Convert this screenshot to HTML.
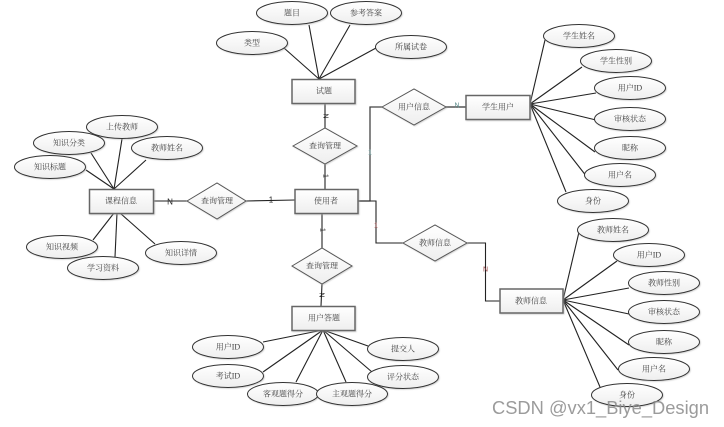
<!DOCTYPE html>
<html>
<head>
<meta charset="utf-8">
<style>
html,body{margin:0;padding:0;background:#fff;width:724px;height:427px;overflow:hidden}
svg{display:block}
.l line,.l polyline{stroke:#222;stroke-width:1.1;fill:none}
.e ellipse{fill:url(#g);stroke:#333;stroke-width:1}
.r rect{fill:url(#g);stroke:#666;stroke-width:1.5}
.d polygon{fill:url(#g);stroke:#555;stroke-width:1}
.s{filter:url(#sh)}
text{font-family:"Liberation Serif","Noto Serif CJK SC",serif;font-size:8px;fill:#444;text-anchor:middle;dominant-baseline:central}
.lab{font-family:"Liberation Sans",sans-serif;font-size:7px;fill:#222}
.wm{font-family:"Liberation Sans",sans-serif;font-size:18px;fill:#8a8a8a;fill-opacity:.85;text-anchor:start;dominant-baseline:auto}
</style>
</head>
<body>
<svg width="724" height="427" viewBox="0 0 724 427" xmlns="http://www.w3.org/2000/svg">
<defs>
<linearGradient id="g" x1="0" y1="0" x2="0" y2="1"><stop offset="0" stop-color="#fff"/><stop offset="1" stop-color="#eeeeee"/></linearGradient>
<filter id="sh" x="-10%" y="-10%" width="120%" height="125%"><feDropShadow dx="0.8" dy="0.8" stdDeviation="0.4" flood-color="#aaa" flood-opacity=".55"/></filter>
</defs>

<g class="l">
<line x1="319" y1="79" x2="284" y2="48"/>
<line x1="319" y1="79" x2="309" y2="25"/>
<line x1="319" y1="79" x2="350" y2="25"/>
<line x1="319" y1="79" x2="376" y2="48"/>
<line x1="325" y1="103" x2="325" y2="128"/>
<line x1="325" y1="164" x2="325" y2="189"/>
<line x1="114" y1="189" x2="86" y2="170"/>
<line x1="114" y1="189" x2="91" y2="153"/>
<line x1="114" y1="189" x2="122" y2="139"/>
<line x1="114" y1="189" x2="146" y2="160"/>
<line x1="114" y1="213" x2="93" y2="240"/>
<line x1="117" y1="213" x2="115" y2="257"/>
<line x1="120" y1="213" x2="155" y2="244"/>
<line x1="153" y1="201" x2="187" y2="201"/>
<line x1="246" y1="201" x2="295" y2="200"/>
<line x1="322" y1="213" x2="322" y2="248"/>
<line x1="322" y1="284" x2="321" y2="306"/>
<line x1="323" y1="330" x2="263" y2="342"/>
<line x1="323" y1="330" x2="263" y2="372"/>
<line x1="323" y1="330" x2="296" y2="382"/>
<line x1="323" y1="330" x2="346" y2="382"/>
<line x1="323" y1="330" x2="368" y2="346"/>
<line x1="323" y1="330" x2="372" y2="372"/>
<polyline points="358,201 370,201 370,107 382,107" style="stroke:#444;stroke-width:1.3"/>
<line x1="446" y1="107" x2="466" y2="107" style="stroke:#555;stroke-width:1.6"/>
<polyline points="358,201 376,201 376,243 403,243"/>
<polyline points="467,243 485.5,243 485.5,301 500,301"/>
<line x1="530" y1="104" x2="545" y2="40"/>
<line x1="530" y1="104" x2="582" y2="67"/>
<line x1="530" y1="104" x2="596" y2="93"/>
<line x1="530" y1="104" x2="596" y2="120"/>
<line x1="530" y1="104" x2="595" y2="152"/>
<line x1="530" y1="104" x2="587" y2="177"/>
<line x1="530" y1="104" x2="566" y2="192"/>
<line x1="563" y1="300" x2="579" y2="232"/>
<line x1="563" y1="300" x2="617" y2="261"/>
<line x1="563" y1="300" x2="629" y2="288"/>
<line x1="563" y1="300" x2="629" y2="314"/>
<line x1="563" y1="300" x2="629" y2="345"/>
<line x1="563" y1="300" x2="618" y2="370"/>
<line x1="563" y1="300" x2="600" y2="387"/>
</g>

<g class="e s">
<ellipse cx="292" cy="13" rx="35.5" ry="11.5"/>
<ellipse cx="366" cy="13" rx="35.5" ry="11.5"/>
<ellipse cx="252" cy="43" rx="35.5" ry="11.5"/>
<ellipse cx="411" cy="47" rx="35.5" ry="11.5"/>
<ellipse cx="122" cy="127" rx="35.5" ry="11.5"/>
<ellipse cx="69" cy="143" rx="35.5" ry="11.5"/>
<ellipse cx="167" cy="148" rx="35.5" ry="11.5"/>
<ellipse cx="50" cy="167" rx="35.5" ry="11.5"/>
<ellipse cx="62" cy="247" rx="35.5" ry="11.5"/>
<ellipse cx="103" cy="268" rx="35.5" ry="11.5"/>
<ellipse cx="181" cy="253" rx="35.5" ry="11.5"/>
<ellipse cx="228" cy="347" rx="35.5" ry="11.5"/>
<ellipse cx="228" cy="376" rx="35.5" ry="11.5"/>
<ellipse cx="283" cy="394" rx="35.5" ry="11.5"/>
<ellipse cx="352" cy="394" rx="35.5" ry="11.5"/>
<ellipse cx="403" cy="349" rx="35.5" ry="11.5"/>
<ellipse cx="403" cy="377" rx="35.5" ry="11.5"/>
<ellipse cx="579" cy="36" rx="35.5" ry="11.5"/>
<ellipse cx="616" cy="61" rx="35.5" ry="11.5"/>
<ellipse cx="630" cy="88" rx="35.5" ry="11.5"/>
<ellipse cx="630" cy="119" rx="35.5" ry="11.5"/>
<ellipse cx="630" cy="148" rx="35.5" ry="11.5"/>
<ellipse cx="620" cy="175" rx="35.5" ry="11.5"/>
<ellipse cx="593" cy="201" rx="35.5" ry="11.5"/>
<ellipse cx="613" cy="230" rx="35.5" ry="11.5"/>
<ellipse cx="649" cy="255" rx="35.5" ry="11.5"/>
<ellipse cx="664" cy="283" rx="35.5" ry="11.5"/>
<ellipse cx="664" cy="312" rx="35.5" ry="11.5"/>
<ellipse cx="664" cy="342" rx="35.5" ry="11.5"/>
<ellipse cx="654" cy="369" rx="35.5" ry="11.5"/>
<ellipse cx="627" cy="395" rx="35.5" ry="11.5"/>
</g>

<g class="r s">
<rect x="292" y="79.5" width="63" height="24"/>
<rect x="295" y="189.5" width="63" height="24"/>
<rect x="89.5" y="189.5" width="64" height="24"/>
<rect x="292" y="306.5" width="63" height="24"/>
<rect x="466" y="95.5" width="64" height="24"/>
<rect x="500" y="289" width="63" height="24"/>
</g>

<g class="d s">
<polygon points="293,146 325,128 357,146 325,164"/>
<polygon points="187,201 217,183 246,201 217,219"/>
<polygon points="292,266 322,248 352,266 322,284"/>
<polygon points="382,107 414,89 446,107 414,125"/>
<polygon points="403,243 435,225 467,243 435,261"/>
</g>

<g>
<text x="292" y="13">题目</text>
<text x="366" y="13">参考答案</text>
<text x="252" y="43">类型</text>
<text x="411" y="47">所属试卷</text>
<text x="122" y="127">上传教师</text>
<text x="69" y="143">知识分类</text>
<text x="167" y="148">教师姓名</text>
<text x="50" y="167">知识标题</text>
<text x="62" y="247">知识视频</text>
<text x="103" y="268">学习资料</text>
<text x="181" y="253">知识详情</text>
<text x="228" y="347">用户ID</text>
<text x="228" y="376">考试ID</text>
<text x="283" y="394">客观题得分</text>
<text x="352" y="394">主观题得分</text>
<text x="403" y="349">提交人</text>
<text x="403" y="377">评分状态</text>
<text x="579" y="36">学生姓名</text>
<text x="616" y="61">学生性别</text>
<text x="630" y="88">用户ID</text>
<text x="630" y="119">审核状态</text>
<text x="630" y="148">昵称</text>
<text x="620" y="175">用户名</text>
<text x="593" y="201">身份</text>
<text x="613" y="230">教师姓名</text>
<text x="649" y="255">用户ID</text>
<text x="664" y="283">教师性别</text>
<text x="664" y="312">审核状态</text>
<text x="664" y="342">昵称</text>
<text x="654" y="369">用户名</text>
<text x="627" y="395">身份</text>
<text x="324" y="91">试题</text>
<text x="326" y="201">使用者</text>
<text x="121" y="201">课程信息</text>
<text x="324" y="318">用户答题</text>
<text x="498" y="107">学生用户</text>
<text x="531" y="301">教师信息</text>
<text x="325" y="146">查询管理</text>
<text x="217" y="201">查询管理</text>
<text x="322" y="266">查询管理</text>
<text x="414" y="107">用户信息</text>
<text x="435" y="243">教师信息</text>
</g>

<g class="lab">
<text class="lab" x="170" y="202" style="font-size:8px">N</text>
<text class="lab" x="271" y="200" style="font-size:8px">1</text>
<text class="lab" transform="translate(325,116) rotate(90)">N</text>
<text class="lab" transform="translate(325,176) rotate(90)">1</text>
<text class="lab" transform="translate(322,230) rotate(90)">1</text>
<text class="lab" transform="translate(321,295) rotate(90)">N</text>
<text class="lab" x="457" y="106" style="fill:#5a8a8a">N</text>
<text class="lab" x="370" y="153" style="fill:#7aa">1</text>
<text class="lab" x="376" y="226" style="fill:#a55">1</text>
<text class="lab" x="485.5" y="270" style="fill:#944">N</text>
</g>

<text class="wm" x="492" y="414" textLength="217" lengthAdjust="spacingAndGlyphs">CSDN @vx1_Biye_Design</text>
</svg>
</body>
</html>
